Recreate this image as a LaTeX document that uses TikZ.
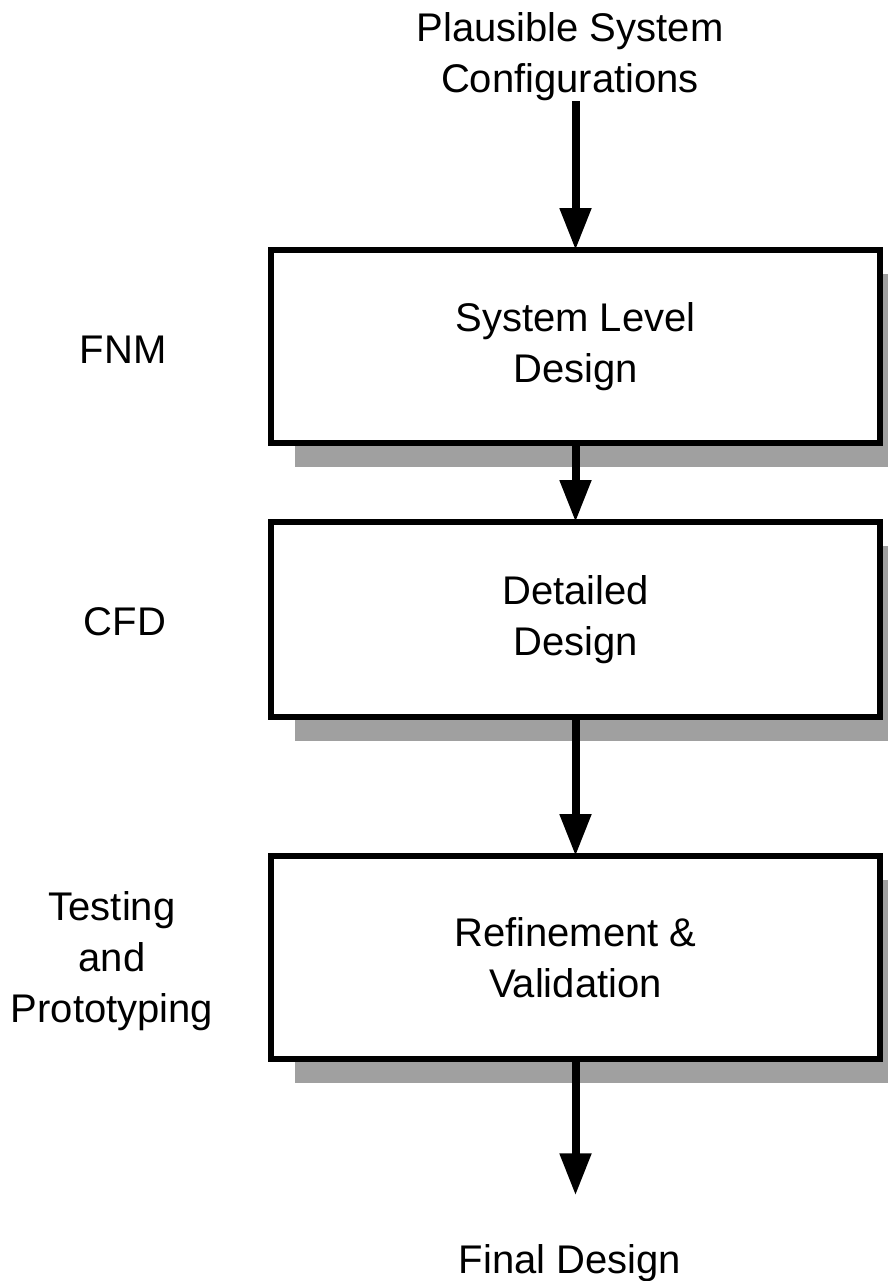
\documentclass[tikz,border=0pt]{standalone}
\usepackage{fontspec}
\setmainfont{Liberation Sans}
\usetikzlibrary{arrows.meta,shadows}
\definecolor{shadowgray}{RGB}{160,160,160}

\tikzset{
  stage/.style={draw,line width=3pt,fill=white,outer sep=0pt,
    minimum width=304.5pt,align=center,
    drop shadow={shadow xshift=12pt,shadow yshift=-12pt,fill=shadowgray,opacity=1}},
  tag/.style={align=center,inner sep=0pt,outer sep=0pt},
  flow/.style={line width=4pt,-{Triangle[length=21pt,width=15pt]}}
}

\begin{document}
\begin{tikzpicture}[x=0.5pt,y=-0.5pt,every node/.style={font=\fontsize{20}{25.5}\selectfont}]
\useasboundingbox (0,0) rectangle (888,1281);

\node[tag] (start) at (570,57) {Plausible System\\Configurations};
\node[tag] (final) at (570,1263) {Final Design};

% the three stages
\node[stage,minimum height=96.5pt] (sys) at (575.5,346.5) {System Level\\Design};
\node[stage,minimum height=97.5pt] (det) at (575.5,619.5) {Detailed\\Design};
\node[stage,minimum height=101.5pt] (ref) at (575.5,957.5) {Refinement \&\\Validation};

% tools used at each stage
\node[tag] (fnm) at (123,350) {FNM};
\node[tag] (cfd) at (125,622) {CFD};
\node[tag] (test) at (112,961) {Testing\\and\\Prototyping};

\draw[flow] (start.south -| sys.north) -- (sys.north);
\draw[flow] (sys.south) -- (det.north);
\draw[flow] (det.south) -- (ref.north);
\draw[flow,shorten >=24.5pt] (ref.south) -- (final.north -| ref.south);
\end{tikzpicture}
\end{document}
